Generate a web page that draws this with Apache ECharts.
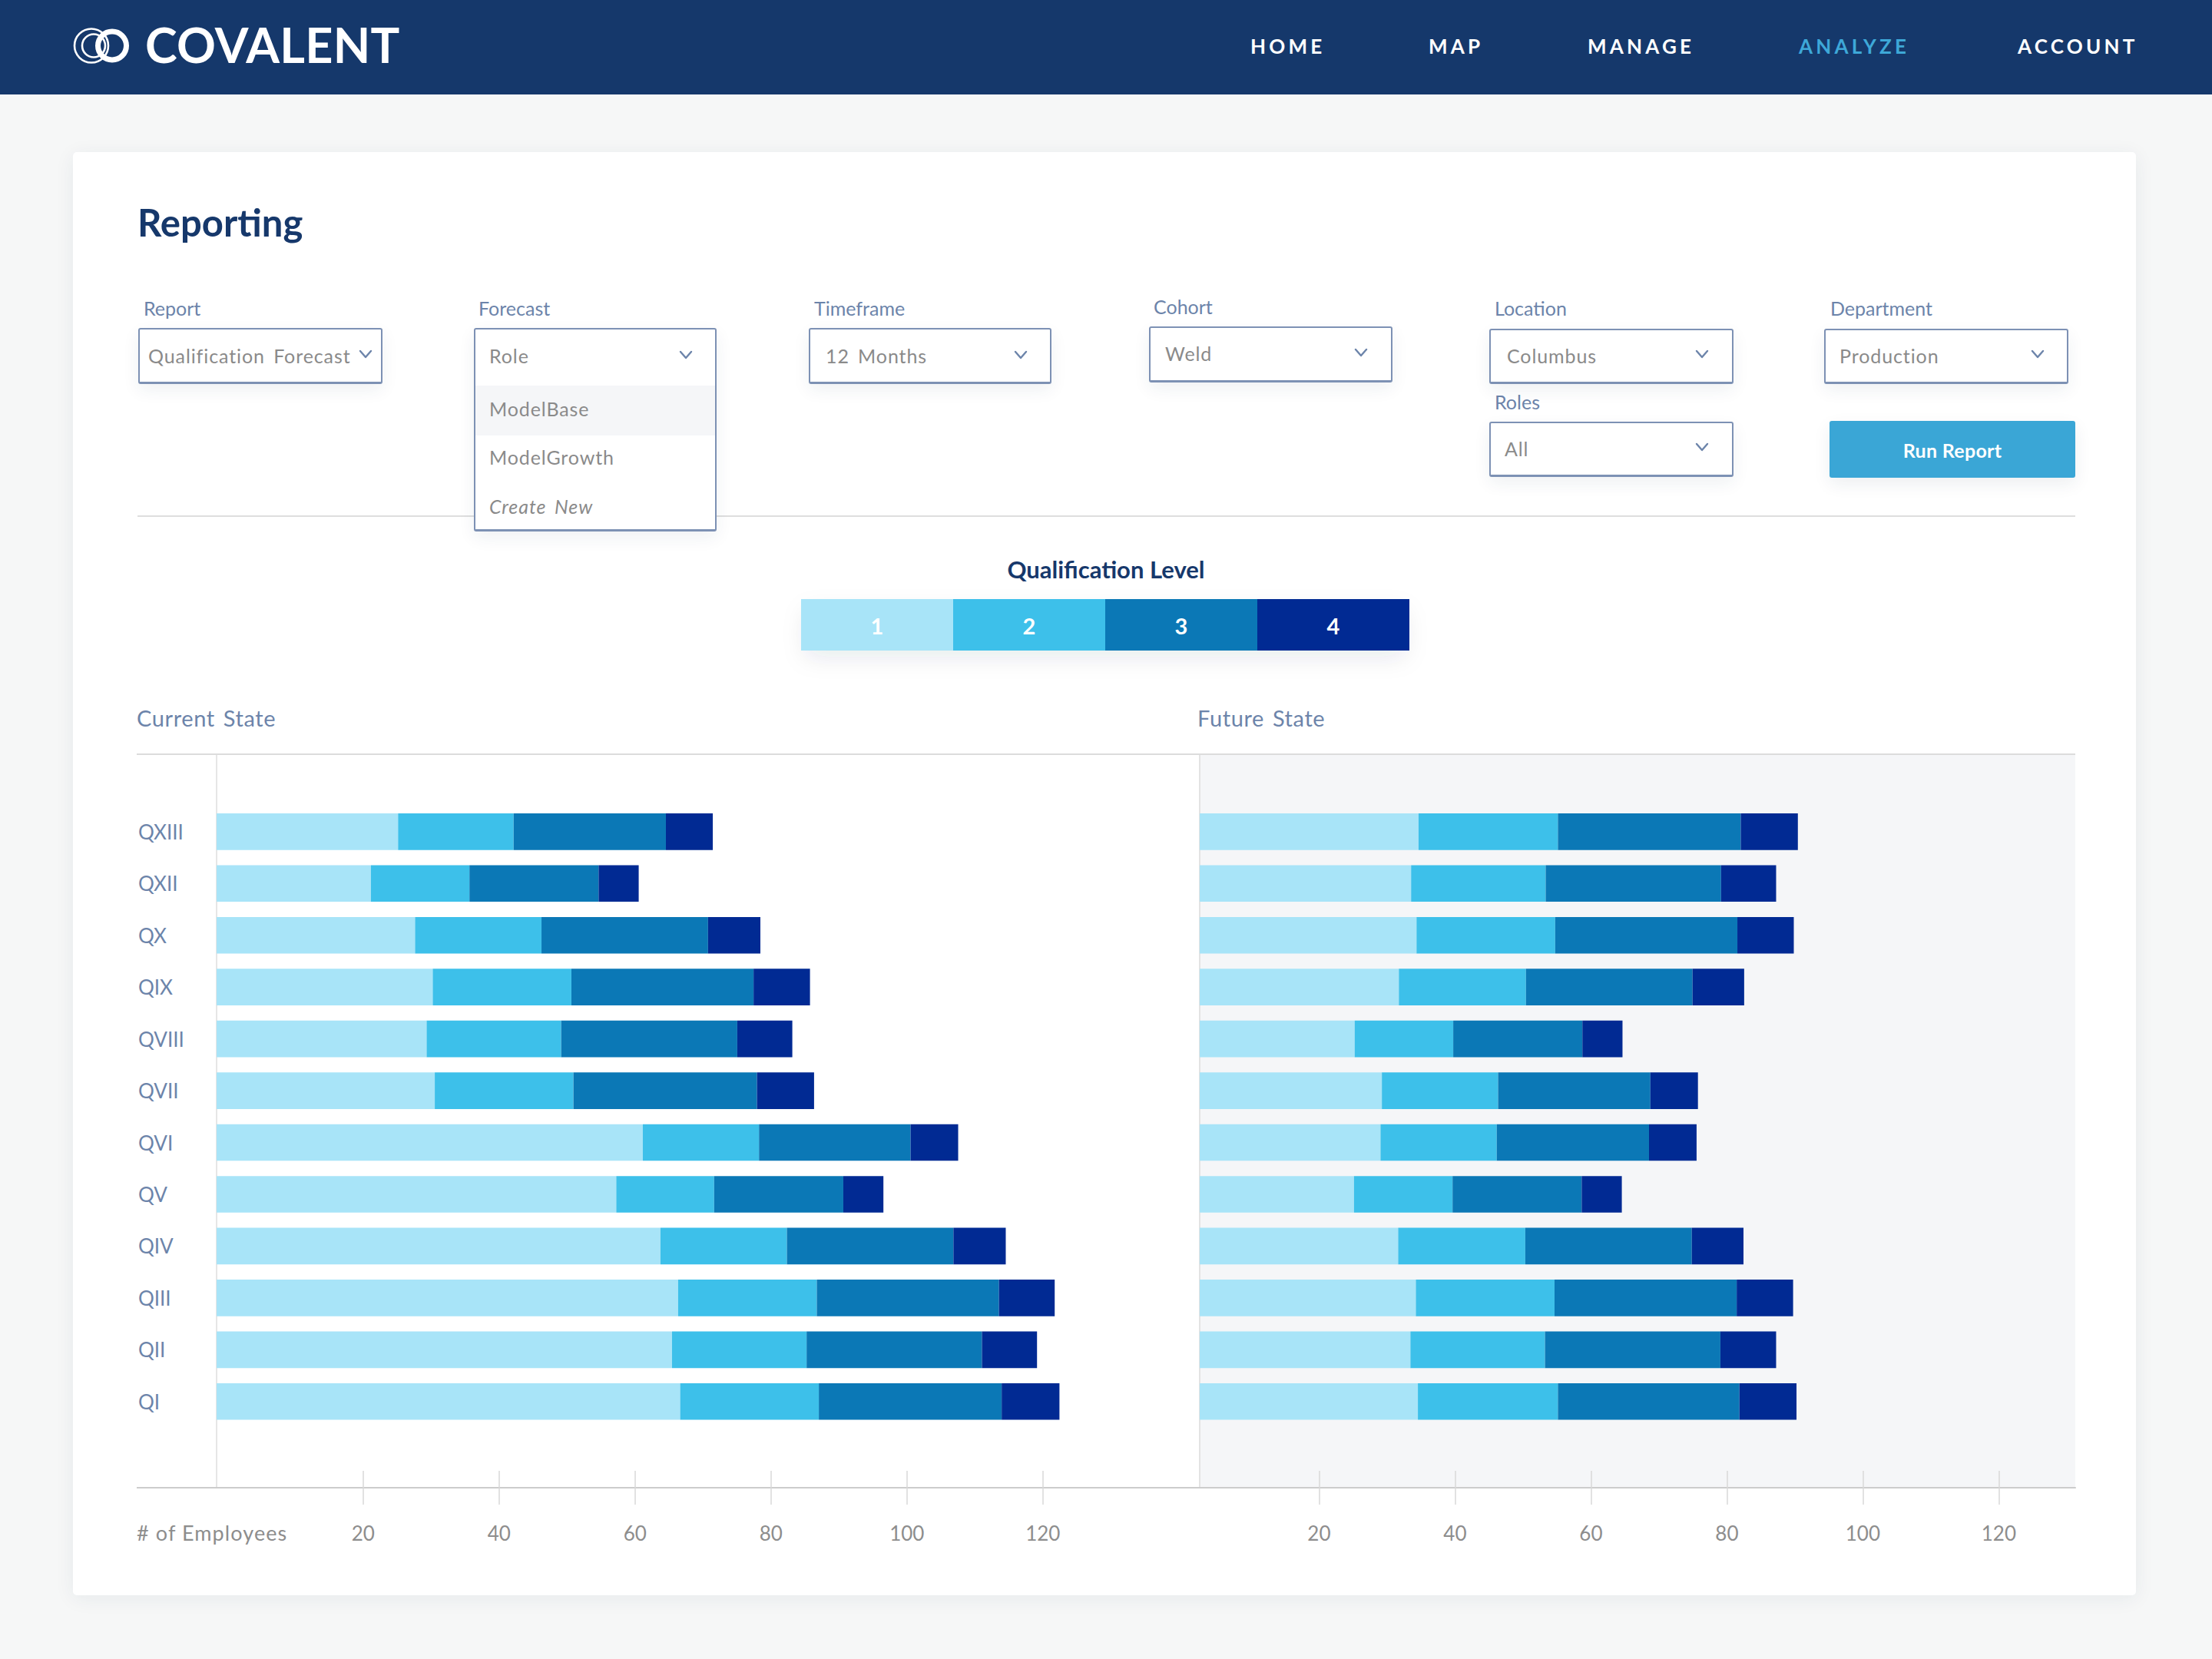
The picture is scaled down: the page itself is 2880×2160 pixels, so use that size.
<!DOCTYPE html>
<html>
<head>
<meta charset="utf-8">
<script src="https://cdn.jsdelivr.net/npm/echarts@6/dist/echarts.min.js"></script>
<style>
html,body{margin:0;padding:0;width:2880px;height:2160px;overflow:hidden;background:#f6f7f7;font-family:Lato,"Noto Sans",sans-serif;}
.abs{position:absolute;box-sizing:border-box;}
.t{position:absolute;line-height:1.2;white-space:nowrap;}
#header{left:0;top:0;width:2880px;height:123px;background:#15386b;z-index:1;}
#card{left:95px;top:198px;width:2686px;height:1879px;background:#fff;border-radius:5px;box-shadow:0 4px 26px rgba(30,50,80,0.07);z-index:1;}
#chart{position:absolute;left:0;top:0;width:2880px;height:2160px;z-index:2;}
#ui{position:absolute;left:0;top:0;width:2880px;height:2160px;z-index:3;}
.box{position:absolute;box-sizing:border-box;background:#fff;border:2px solid #7d91b4;border-bottom-width:3px;border-radius:3px;box-shadow:0 8px 22px rgba(30,50,80,0.07);}
.chev{position:absolute;}
</style>
</head>
<body>
<div id="header" class="abs"></div>
<div id="card" class="abs"></div>
<div id="chart"></div>
<div id="ui"></div>
<script>
// ---------- data ----------
const categories = ['QI','QII','QIII','QIV','QV','QVI','QVII','QVIII','QIX','QX','QXII','QXIII'];
const levels = ['1','2','3','4'];
const levelColors = ['#a8e4f8','#3dc0ea','#0b78b6','#012a93'];

const currentL1 = [68.2,67.0,67.9,65.3,58.8,62.7,32.1,30.9,31.8,29.2,22.7,26.7];
const currentL2 = [20.4,19.8,20.4,18.6,14.4,17.1,20.4,19.8,20.4,18.6,14.5,17.0];
const currentL3 = [26.9,25.8,26.8,24.5,19.0,22.3,27.0,25.9,26.8,24.5,19.0,22.4];
const currentL4 = [8.5,8.1,8.2,7.7,5.9,7.0,8.4,8.1,8.3,7.7,5.9,6.9];

const futureL1 = [32.1,31.0,31.8,29.2,22.7,26.6,26.8,22.8,29.3,31.9,31.1,32.2];
const futureL2 = [20.6,19.8,20.4,18.7,14.5,17.1,17.1,14.5,18.7,20.4,19.8,20.5];
const futureL3 = [26.7,25.8,26.8,24.5,19.0,22.4,22.4,19.0,24.5,26.8,25.8,26.9];
const futureL4 = [8.4,8.2,8.3,7.6,5.9,7.0,7.0,5.9,7.6,8.3,8.1,8.4];

const tickValues = [20,40,60,80,100,120];
const axisTitle = '# of Employees';
const legendTitle = 'Qualification Level';
const panelTitles = ['Current State','Future State'];

// ---------- page chrome (HTML) ----------
const FONT = 'Lato, "Noto Sans", sans-serif';
function T(txt, x, base, size, color, extra){
  return `<div class="t" style="left:${x}px;top:${(base-0.987*size).toFixed(1)}px;font-size:${size}px;color:${color};${extra||''}">${txt}</div>`;
}
function chev(x,y){
  return `<svg class="chev" style="left:${x}px;top:${y}px" width="18" height="12" viewBox="0 0 18 12"><polyline points="2,2 9,10 16,2" fill="none" stroke="#6c84aa" stroke-width="2.4" stroke-linecap="round" stroke-linejoin="round"/></svg>`;
}
function box(x,y,w,h){ return `<div class="box" style="left:${x}px;top:${y}px;width:${w}px;height:${h}px"></div>`; }

const LBL = '#6c84aa', VAL = '#8a8a8a', NAVY = '#16386b';
let ui = '';
// header
ui += `<svg class="abs" style="left:95px;top:35px" width="76" height="50" viewBox="0 0 76 50">
  <circle cx="24" cy="24.5" r="22" fill="none" stroke="#fff" stroke-width="2.6"/>
  <circle cx="27" cy="24.5" r="15" fill="none" stroke="#fff" stroke-width="2.6"/>
  <circle cx="51" cy="24.5" r="18.5" fill="none" stroke="#fff" stroke-width="7"/>
</svg>`;
ui += T('COVALENT', 189, 81.7, 63, '#fff', 'font-weight:700;letter-spacing:0.3px;');
const nav = [['HOME',1628,'#fff'],['MAP',1860,'#fff'],['MANAGE',2067,'#fff'],['ANALYZE',2342,'#3ea8d8'],['ACCOUNT',2627,'#fff']];
nav.forEach(n=>{ ui += T(n[0], n[1], 71, 26, n[2], 'font-weight:700;letter-spacing:4.2px;'); });

// title
ui += T('Reporting', 179, 308, 49, NAVY, 'font-weight:700;');

// filter labels
ui += T('Report', 187, 411, 25, LBL);
ui += T('Forecast', 623, 411, 25, LBL);
ui += T('Timeframe', 1060, 411, 25, LBL);
ui += T('Cohort', 1502, 409, 25, LBL);
ui += T('Location', 1946, 411, 25, LBL);
ui += T('Department', 2383, 411, 25, LBL);
ui += T('Roles', 1946, 533, 25, LBL);

// separator line
ui += `<div class="abs" style="left:179px;top:671px;width:2523px;height:2px;background:#dedede"></div>`;

// boxes
ui += box(180,427,318,73);
ui += `<div class="box" style="left:617px;top:427px;width:316px;height:265px;">
  <div class="abs" style="left:0;top:73px;width:312px;height:65px;background:#f5f6f8"></div></div>`;
ui += box(1053,427,316,73);
ui += box(1496,425,317,73);
ui += box(1939,428,318,72);
ui += box(2375,428,318,72);
ui += box(1939,549,318,72);
ui += `<div class="abs" style="left:2382px;top:548px;width:320px;height:74px;background:#3aa6d6;border-radius:3px;box-shadow:0 8px 22px rgba(30,50,80,0.08);display:flex;align-items:center;justify-content:center;color:#fff;font-size:25px;font-weight:700;padding-top:2px;letter-spacing:0.3px">Run Report</div>`;

// box texts
const vs = 'letter-spacing:0.9px;word-spacing:4px;';
ui += T('Qualification Forecast', 193, 473, 25, VAL, vs);
ui += T('Role', 637, 473, 25, VAL, vs);
ui += T('ModelBase', 637, 542, 25, VAL, vs);
ui += T('ModelGrowth', 637, 605, 25, VAL, vs);
ui += T('Create New', 637, 669, 25, VAL, vs+'font-style:italic;');
ui += T('12 Months', 1075, 473, 25, VAL, vs);
ui += T('Weld', 1517, 470, 25, VAL, vs);
ui += T('Columbus', 1962, 473, 25, VAL, vs);
ui += T('Production', 2395, 473, 25, VAL, vs);
ui += T('All', 1959, 594, 25, VAL, vs);
// chevrons
ui += chev(467,455) + chev(884,456) + chev(1320,456) + chev(1763,453) + chev(2207,455) + chev(2644,455) + chev(2207,576);

// panel titles, top rule, axis title
ui += T(panelTitles[0], 178, 946.7, 29, LBL, 'letter-spacing:0.6px;word-spacing:3px;');
ui += T(panelTitles[1], 1559, 946.7, 29, LBL, 'letter-spacing:0.6px;word-spacing:3px;');
ui += `<div class="abs" style="left:178px;top:981px;width:2524px;height:2px;background:#dcdcdc"></div>`;
ui += T(axisTitle, 178, 2007, 27, '#8d8d8d', 'letter-spacing:1.1px;');
document.getElementById('ui').innerHTML = ui;

// ---------- chart (ECharts) ----------
const PX = 8.85;                 // pixels per employee
const L0 = 282, R0 = 1562, RIGHT = 2702;
const TOP = 982, BOTTOM = 1937;
const BAR_TOP = 1049.1, BAR_H = 809.4;
const LEFT_BAR_W = 1239;
const TICK20_L = 472.8, TICK20_R = 1717.4;
const frameLMin = 20 - (TICK20_L - L0) / PX;
const frameRMin = 20 - (TICK20_R - R0) / PX;

const hiddenX = (gi, max) => ({gridIndex:gi, type:'value', min:0, max:max, show:false});
const tickAxis = (gi, min, max, withLabels) => ({
  gridIndex:gi, type:'value', position:'bottom', min:min, max:max, z:3,
  axisLine:{show:withLabels, onZero:false, lineStyle:{color:'#cccccc', width:2}},
  axisTick:{show:true, inside:!withLabels, customValues:tickValues, length:22, lineStyle:{color:'#d9d9d9', width:1.5}},
  axisLabel:{show:withLabels, customValues:tickValues, margin:46, color:'#8d8d8d', fontSize:26, fontFamily:FONT},
  splitLine:{show:false}
});
const frameY = (gi, color) => ({
  gridIndex:gi, type:'value', min:0, max:1, position:'left', z:3,
  axisLine:{show:true, onZero:false, lineStyle:{color:color, width:2}},
  axisTick:{show:false}, axisLabel:{show:false}, splitLine:{show:false}
});

const currentData = [currentL1, currentL2, currentL3, currentL4];
const futureData = [futureL1, futureL2, futureL3, futureL4];
const series = [];
levels.forEach((lv,i)=>{
  series.push({type:'bar', name:lv, stack:'current', xAxisIndex:0, yAxisIndex:0, data:currentData[i],
    barCategoryGap:'29.3%', z:5, itemStyle:{color:levelColors[i]}, emphasis:{disabled:true}});
});
levels.forEach((lv,i)=>{
  series.push({type:'bar', name:lv, stack:'future', xAxisIndex:1, yAxisIndex:1, data:futureData[i],
    barCategoryGap:'29.3%', z:5, itemStyle:{color:levelColors[i]}, emphasis:{disabled:true}});
});

// legend drawn as a row of colour cells
const LEG_X = 1043, LEG_Y = 780, LEG_W = 198, LEG_H = 67;
const graphic = [
  {type:'text', z:10, style:{text:legendTitle, x:1440, y:741, align:'center', verticalAlign:'middle',
    textAlign:'center', textVerticalAlign:'middle', fill:NAVY, font:'bold 31px ' + FONT}},
  {type:'rect', z:9, shape:{x:LEG_X+6, y:LEG_Y+4, width:LEG_W*4-12, height:LEG_H-8},
    style:{fill:'#ffffff', shadowBlur:30, shadowOffsetY:12, shadowColor:'rgba(20,40,80,0.10)'}},
  {type:'line', z:4, shape:{x1:178, y1:BOTTOM, x2:L0, y2:BOTTOM}, style:{stroke:'#cccccc', lineWidth:2}}
];
levels.forEach((lv,i)=>{
  graphic.push({type:'rect', z:10, shape:{x:LEG_X+i*LEG_W, y:LEG_Y, width:LEG_W, height:LEG_H}, style:{fill:levelColors[i]}});
  graphic.push({type:'text', z:11, style:{text:lv, x:LEG_X+i*LEG_W+LEG_W/2, y:LEG_Y+LEG_H/2+1, align:'center', verticalAlign:'middle',
    textAlign:'center', textVerticalAlign:'middle', fill:'#ffffff', font:'bold 29px ' + FONT}});
});

const option = {
  animation:false,
  grid:[
    {left:L0, top:BAR_TOP, width:LEFT_BAR_W, height:BAR_H, containLabel:false, outerBoundsMode:'none'},
    {left:R0, top:BAR_TOP, width:RIGHT-R0, height:BAR_H, containLabel:false, outerBoundsMode:'none'},
    {left:L0, top:TOP, width:R0-L0, height:BOTTOM-TOP, containLabel:false, outerBoundsMode:'none'},
    {left:R0, top:TOP, width:RIGHT-R0, height:BOTTOM-TOP, show:true, backgroundColor:'#f5f6f8', borderWidth:0, z:0, containLabel:false, outerBoundsMode:'none'}
  ],
  xAxis:[
    hiddenX(0, LEFT_BAR_W/PX),
    hiddenX(1, (RIGHT-R0)/PX),
    tickAxis(2, frameLMin, frameLMin + (R0-L0)/PX, true),
    tickAxis(2, frameLMin, frameLMin + (R0-L0)/PX, false),
    tickAxis(3, frameRMin, frameRMin + (RIGHT-R0)/PX, true),
    tickAxis(3, frameRMin, frameRMin + (RIGHT-R0)/PX, false)
  ],
  yAxis:[
    {gridIndex:0, type:'category', data:categories,
      axisLine:{show:false}, axisTick:{show:false}, splitLine:{show:false},
      axisLabel:{align:'left', margin:L0-180, color:'#6c84aa', fontSize:26, fontFamily:FONT}},
    {gridIndex:1, type:'category', data:categories, show:false},
    frameY(2, '#e6e6e6'),
    frameY(3, '#e3e3e3')
  ],
  series:series,
  graphic:graphic
};

const chart = echarts.init(document.getElementById('chart'), null, {renderer:'svg', width:2880, height:2160});
chart.setOption(option);
</script>
</body>
</html>
